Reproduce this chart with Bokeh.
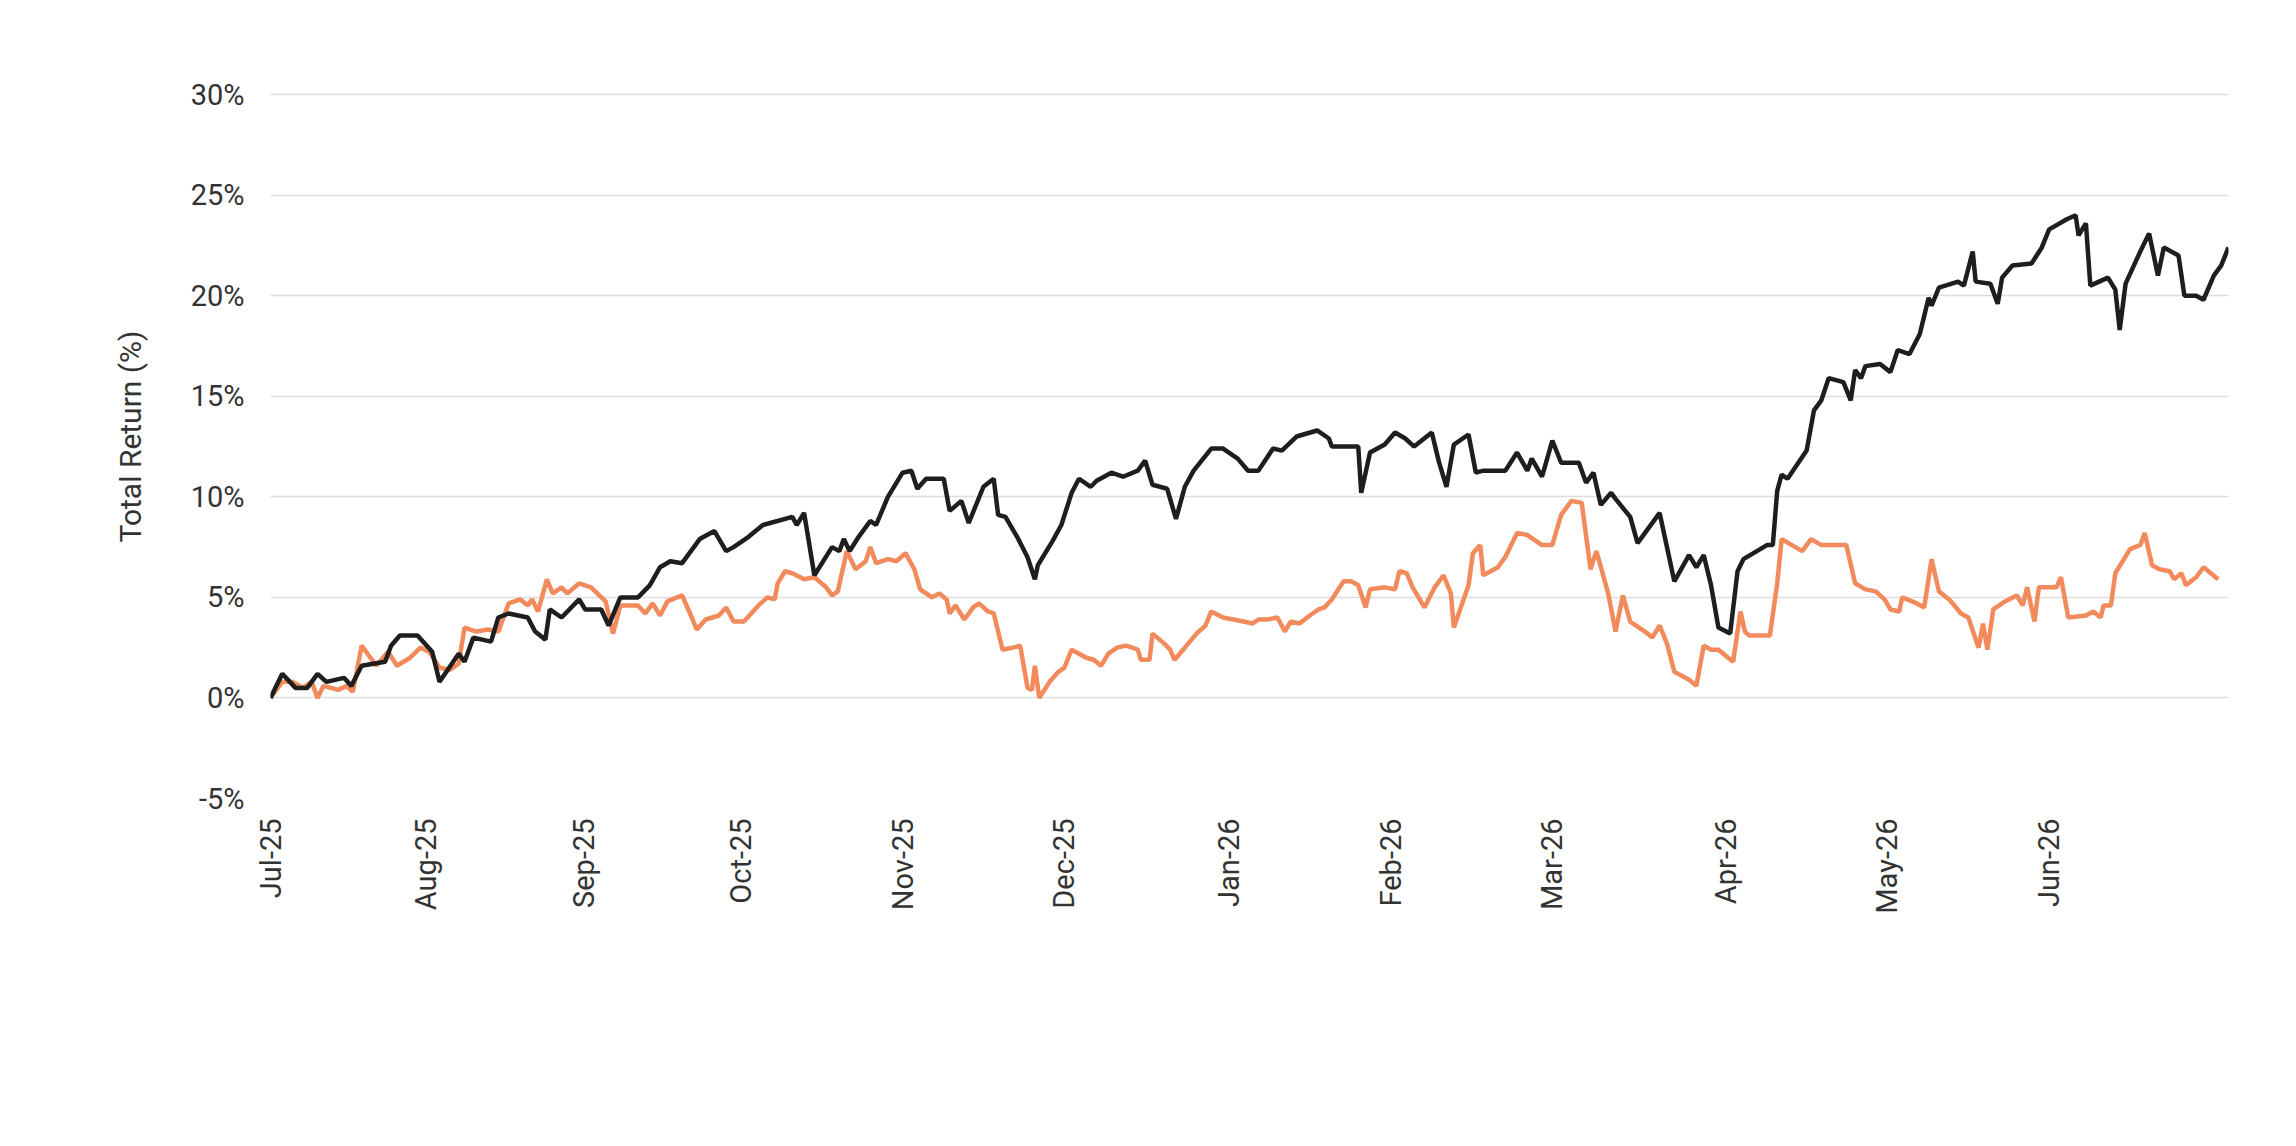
from bokeh.plotting import figure
from bokeh.models import Legend, LegendItem, Range1d, FixedTicker
from bokeh.embed import file_html
from bokeh.resources import INLINE

# readings: position along the time axis (chart units) and value in %
spx_t = [190,198,207,215,222,228,240,245,252,268,272,278,290,300,305,318,322,328,340,345,352,365,370,377,380,388,400,404,415,420,428,440,448,455,462,470,482,492,500,505,515,525,545,548,553,560,572,577,580,584,590,598,602,610,620,626,630,636,648,652,660,665,675,682,685,690,698,705,710,712,722,728,735,740,748,752,762,770,780,785,790,800,806,812,818,830,838,848,855,862,872,878,888,902,910,912,930,932,938,948,955,962,968,980,985,990,995,1005,1010,1015,1030,1038,1045,1048,1055,1062,1068,1080,1085,1090,1095,1102,1105,1115,1120,1135,1145,1155,1160,1165,1170,1175,1183,1188,1192,1208,1212,1215,1218,1222,1235,1240,1245,1250,1260,1265,1268,1272,1275,1285,1292,1297,1305,1312,1318,1320,1325,1338,1342,1348,1350,1360,1365,1368,1375,1388,1395,1400,1412,1418,1420,1425,1428,1440,1445,1448,1452,1462,1468,1474,1478,1488,1492,1500,1505,1512,1517,1522]
spx_v = [0,1.2,0.5,0.5,1.2,0.8,1.0,0.6,1.6,1.8,2.6,3.1,3.1,2.3,0.8,2.2,1.8,3.0,2.8,4.0,4.2,4.0,3.3,2.9,4.4,4.0,4.9,4.4,4.4,3.6,5.0,5.0,5.6,6.5,6.8,6.7,7.9,8.3,7.3,7.5,8.0,8.6,9.0,8.6,9.2,6.1,7.5,7.3,7.9,7.3,8.0,8.8,8.6,10.0,11.2,11.3,10.4,10.9,10.9,9.3,9.8,8.7,10.5,10.9,9.1,9.0,8.0,7.0,5.9,6.6,7.8,8.6,10.2,10.9,10.5,10.8,11.2,11.0,11.3,11.8,10.6,10.4,8.9,10.5,11.3,12.4,12.4,11.9,11.3,11.3,12.4,12.3,13.0,13.3,12.9,12.5,12.5,10.2,12.2,12.6,13.2,12.9,12.5,13.2,11.7,10.5,12.6,13.1,11.2,11.3,11.3,12.2,11.3,11.9,11.0,12.8,11.7,11.7,10.7,11.2,9.6,10.2,9.9,9.0,7.7,9.2,5.8,7.1,6.5,7.1,5.6,3.5,3.2,6.3,6.9,7.6,7.6,10.3,11.1,10.9,12.3,14.3,14.8,15.9,15.7,14.8,16.3,15.9,16.5,16.6,16.2,17.3,17.1,18.1,19.9,19.5,20.4,20.7,20.5,22.2,20.7,20.6,19.6,20.9,21.5,21.6,22.4,23.3,23.8,24.0,23.0,23.6,20.5,20.9,20.3,18.3,20.6,22.2,23.1,21.0,22.4,22.0,20.0,20.0,19.8,21.0,21.5,22.4]

asx_t = [190,198,205,212,218,222,226,236,242,246,252,258,262,270,276,285,292,298,305,312,318,322,330,338,345,352,360,365,368,372,378,382,388,392,400,408,418,423,428,440,445,450,455,460,470,476,480,486,495,500,505,512,522,528,533,535,540,545,553,560,568,572,576,582,588,595,598,602,610,616,622,628,632,640,645,650,652,656,662,668,672,678,682,688,695,700,705,708,710,713,720,726,730,735,745,750,755,760,766,772,780,782,788,790,798,802,805,812,820,826,830,838,845,852,858,862,868,875,880,884,890,897,903,907,912,920,925,930,935,938,948,955,958,963,967,975,982,988,993,995,1005,1008,1013,1015,1025,1030,1038,1045,1055,1062,1068,1075,1082,1088,1092,1100,1105,1110,1115,1125,1130,1135,1140,1145,1155,1160,1165,1170,1175,1180,1185,1190,1193,1196,1210,1215,1218,1225,1232,1238,1245,1262,1268,1275,1282,1288,1292,1298,1300,1310,1315,1320,1325,1332,1340,1345,1352,1355,1358,1362,1370,1378,1382,1385,1390,1393,1405,1408,1413,1425,1430,1435,1437,1442,1445,1455,1462,1465,1470,1475,1482,1485,1490,1493,1500,1505,1515,1520]
asx_v = [0,0.8,0.8,0.5,0.8,0.0,0.6,0.4,0.6,0.3,2.6,2.0,1.6,2.3,1.6,2.0,2.5,2.3,1.5,1.4,1.7,3.5,3.3,3.4,3.3,4.7,4.9,4.6,4.9,4.3,5.9,5.2,5.5,5.2,5.7,5.5,4.8,3.2,4.6,4.6,4.2,4.7,4.1,4.8,5.1,4.1,3.4,3.9,4.1,4.5,3.8,3.8,4.6,5.0,4.9,5.7,6.3,6.2,5.9,6.0,5.5,5.1,5.3,7.3,6.4,6.8,7.5,6.7,6.9,6.8,7.2,6.4,5.4,5.0,5.2,4.9,4.2,4.6,3.9,4.5,4.7,4.3,4.2,2.4,2.5,2.6,0.5,0.4,1.6,0.0,0.8,1.3,1.5,2.4,2.0,1.9,1.6,2.2,2.5,2.6,2.4,1.9,1.9,3.2,2.7,2.4,1.9,2.5,3.2,3.6,4.3,4.0,3.9,3.8,3.7,3.9,3.9,4.0,3.3,3.8,3.7,4.1,4.4,4.5,4.9,5.8,5.8,5.6,4.5,5.4,5.5,5.4,6.3,6.2,5.5,4.5,5.5,6.1,5.2,3.5,5.6,7.2,7.6,6.1,6.5,7.0,8.2,8.1,7.6,7.6,9.1,9.8,9.7,6.4,7.3,5.2,3.3,5.1,3.8,3.3,3.0,3.6,2.7,1.3,0.9,0.6,2.6,2.4,2.4,2.1,1.8,4.3,3.3,3.1,3.1,5.7,7.9,7.6,7.3,7.9,7.6,7.6,5.7,5.4,5.3,4.9,4.4,4.3,5.0,4.7,4.5,6.9,5.3,4.9,4.2,4.0,2.5,3.7,2.4,4.4,4.8,5.1,4.6,5.5,3.8,5.5,5.5,6.0,4.0,4.1,4.3,4.0,4.6,4.6,6.2,7.4,7.6,8.2,6.6,6.4,6.3,5.9,6.2,5.6,6.0,6.5,5.9]

tick_pos = [190,296,403,510,620,730,842,952,1062,1180,1290,1400]
tick_labels = ["Jul-25","Aug-25","Sep-25","Oct-25","Nov-25","Dec-25","Jan-26","Feb-26","Mar-26","Apr-26","May-26","Jun-26"]
y_ticks = [-5, 0, 5, 10, 15, 20, 25, 30]

def days(ts):
    return [(t - 190) / 5 for t in ts]

FONT = "Roboto"
p = figure(width=2278, height=1128, output_backend="svg", toolbar_location=None,
           x_range=Range1d(0, 266.4), y_range=Range1d(-5, 31),
           min_border_left=270, min_border_right=50, min_border_top=74, min_border_bottom=330,
           border_fill_color="white")
p.outline_line_color = None

l1 = p.line(days(asx_t), asx_v, line_color="#F28A5C", line_width=4.5)
l2 = p.line(days(spx_t), spx_v, line_color="#1E1E1E", line_width=4.5)

p.xaxis.ticker = FixedTicker(ticks=days(tick_pos))
p.xaxis.major_label_overrides = {d: lab for d, lab in zip(days(tick_pos), tick_labels)}
p.xaxis.major_label_orientation = 1.5708
p.xaxis.major_label_standoff = 14
p.yaxis.ticker = FixedTicker(ticks=y_ticks)
p.yaxis.major_label_overrides = {v: f"{v}%" for v in y_ticks}
p.yaxis.major_label_standoff = 20
for ax in (p.xaxis, p.yaxis):
    ax.axis_line_color = None
    ax.major_tick_line_color = None
    ax.minor_tick_line_color = None
    ax.major_label_text_font = FONT
    ax.major_label_text_font_size = "29px"
    ax.major_label_text_color = "#333333"
p.yaxis.axis_label = "Total Return (%)"
p.yaxis.axis_label_text_font = FONT
p.yaxis.axis_label_text_font_style = "normal"
p.yaxis.axis_label_text_font_size = "30px"
p.yaxis.axis_label_text_color = "#333333"
p.yaxis.axis_label_standoff = 40
p.xgrid.grid_line_color = None
p.ygrid.grid_line_color = "#DDDDDD"
p.ygrid.grid_line_width = 1.5

legend = Legend(items=[LegendItem(label="S&P/ASX 200 Accumulation Index", renderers=[l1]),
                       LegendItem(label="S&P 500 (Total Return)", renderers=[l2])],
                orientation="horizontal", location=(370, -290),
                label_text_font=FONT, label_text_font_size="32px", label_text_color="#333333",
                glyph_width=60, spacing=60, border_line_color=None, background_fill_alpha=0)
p.add_layout(legend)

open("out.html", "w").write(file_html(p, INLINE))
